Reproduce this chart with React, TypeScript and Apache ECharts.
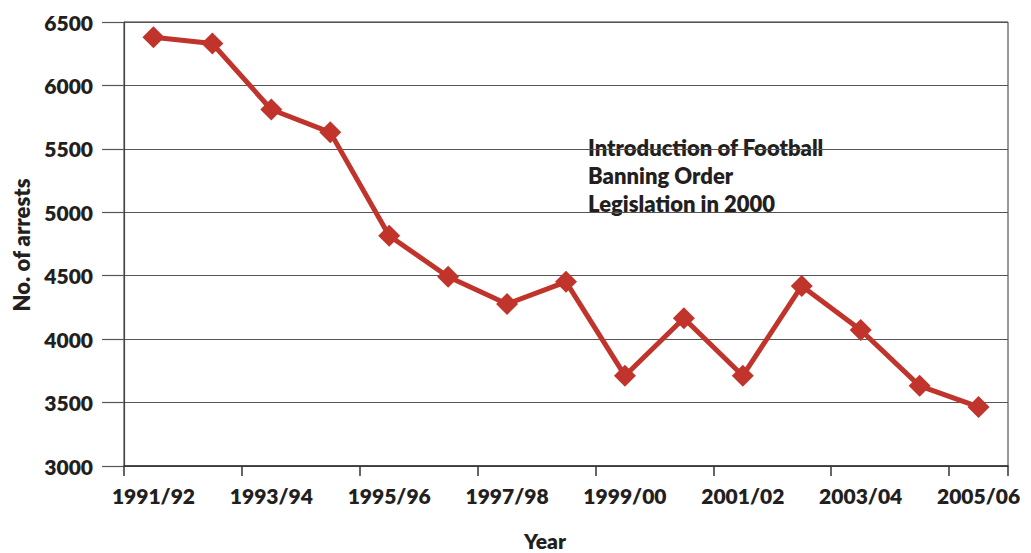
import React, { useEffect, useRef } from "react";
import * as echarts from "echarts";

// Football-related arrests per season
const seasons = [
  "1991/92", "1992/93", "1993/94", "1994/95", "1995/96",
  "1996/97", "1997/98", "1998/99", "1999/00", "2000/01",
  "2001/02", "2002/03", "2003/04", "2004/05", "2005/06",
];
const arrests = [
  6380, 6330, 5810, 5630, 4815,
  4492, 4277, 4452, 3712, 4165,
  3712, 4419, 4072, 3632, 3466,
];
const yTicks = { min: 3000, max: 6500, interval: 500 };
const noteLines = ["Introduction of Football", "Banning Order", "Legislation in 2000"];

const FONT = "Lato, 'Open Sans', sans-serif";
const WEIGHT = 800;
const INK = "#231f20";
const RED = "#c1342c";

export default function App() {
  const ref = useRef<HTMLDivElement>(null);

  useEffect(() => {
    if (!ref.current) return;
    const chart = echarts.init(ref.current, undefined, { renderer: "svg" });
    chart.setOption({
      animation: false,
      backgroundColor: "#ffffff",
      grid: {
        left: 124,
        right: 23,
        top: 22,
        bottom: 87,
        show: true,
        borderColor: "#333333",
        borderWidth: 1,
        backgroundColor: "transparent",
      },
      xAxis: {
        type: "category",
        data: seasons,
        boundaryGap: true,
        axisLine: { lineStyle: { color: "#333333", width: 1.5 } },
        axisTick: { show: true, length: 10, lineStyle: { color: "#333333", width: 1.5 } },
        axisLabel: {
          interval: 1,
          margin: 19,
          color: INK,
          fontFamily: FONT,
          fontWeight: WEIGHT,
          fontSize: 21,
        },
      },
      yAxis: {
        type: "value",
        min: yTicks.min,
        max: yTicks.max,
        interval: yTicks.interval,
        axisLine: { show: true, lineStyle: { color: "#444444", width: 1.2 } },
        axisTick: { show: true, length: 22, lineStyle: { color: "#555555", width: 1.2 } },
        splitLine: { lineStyle: { color: "#555555", width: 1.2 } },
        axisLabel: {
          margin: 31,
          color: INK,
          fontFamily: FONT,
          fontWeight: WEIGHT,
          fontSize: 21,
          formatter: (v: number) => String(v),
        },
      },
      graphic: [
        {
          type: "text",
          left: 588,
          top: 133,
          style: {
            text: noteLines.join("\n"),
            font: `${WEIGHT} 22px ${FONT}`,
            lineHeight: 28,
            fill: INK,
          },
        },
        {
          type: "text",
          x: 545,
          y: 540,
          style: {
            text: "Year",
            font: `${WEIGHT} 21px ${FONT}`,
            fill: INK,
            align: "center",
            verticalAlign: "middle",
          },
        },
        {
          type: "text",
          x: 21,
          y: 245,
          rotation: Math.PI / 2,
          style: {
            text: "No. of arrests",
            font: `${WEIGHT} 22px ${FONT}`,
            fill: INK,
            align: "center",
            verticalAlign: "middle",
          },
        },
      ],
      series: [
        {
          type: "line",
          data: arrests,
          symbol: "diamond",
          symbolSize: 22,
          lineStyle: { color: RED, width: 5 },
          itemStyle: { color: RED },
          z: 5,
        },
      ],
    });
    return () => chart.dispose();
  }, []);

  return (
    <div
      ref={ref}
      style={{ position: "fixed", left: 0, top: 0, width: 1031, height: 553 }}
    />
  );
}
